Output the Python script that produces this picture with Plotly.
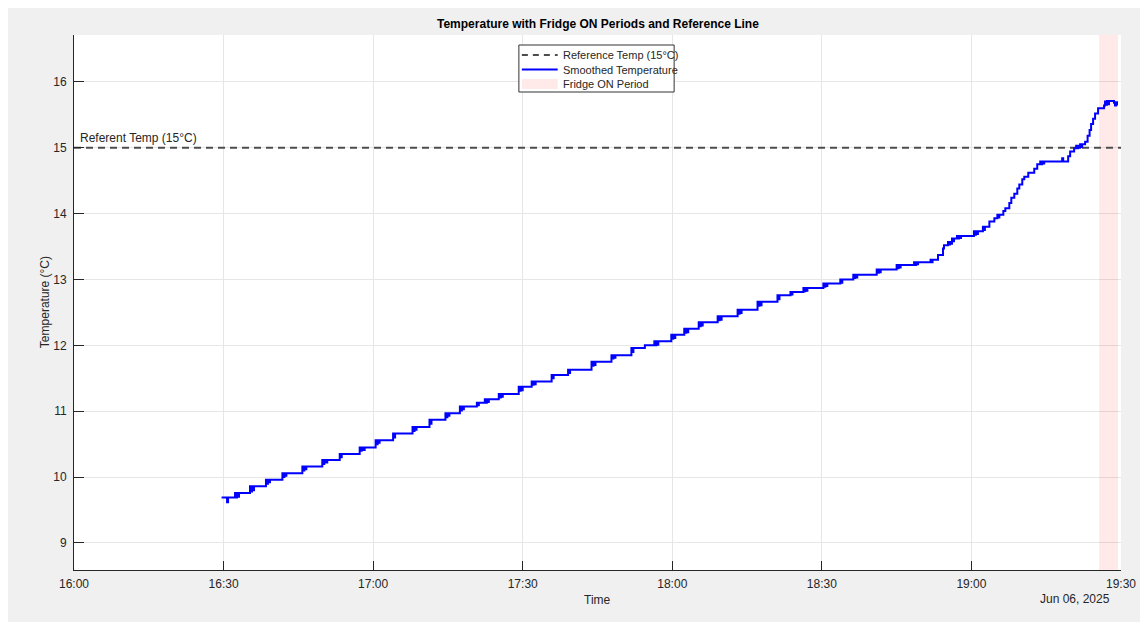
import plotly.graph_objects as go
import pandas as pd

# ---------------- data ----------------
base_time = "2025-06-06 16:00:00"
minutes_after_16h = [
    29.6, 30.7, 30.9, 32.3, 32.5, 32.7, 32.9, 33.1, 35.3, 35.5, 35.7, 35.9, 36.1,
    38.5, 38.7, 38.9, 39.1, 39.3, 41.8, 42.0, 42.2, 42.4, 42.6, 45.8, 46.0, 46.2,
    46.4, 46.6, 49.8, 50.0, 50.2, 50.5, 50.8, 53.3, 53.5, 53.7, 57.3, 57.5, 57.7,
    58.0, 58.3, 60.5, 60.7, 60.9, 61.1, 61.3, 64.0, 64.2, 64.4, 67.9, 68.1, 68.3,
    68.5, 68.7, 71.3, 71.5, 71.7, 74.5, 74.7, 74.9, 75.1, 75.3, 77.4, 77.6, 77.8,
    78.0, 78.2, 80.8, 81.0, 81.2, 82.4, 82.6, 82.8, 83.0, 83.2, 85.2, 85.4, 85.6,
    85.8, 86.0, 89.2, 89.4, 89.6, 89.8, 90.0, 91.8, 92.0, 92.2, 92.4, 92.6, 95.8,
    96.0, 96.2, 99.1, 99.3, 99.5, 103.8, 104.0, 104.2, 104.4, 104.6, 107.8, 108.0,
    108.2, 108.4, 108.6, 111.8, 112.0, 112.2, 114.5, 116.4, 116.6, 116.8, 117.0,
    117.2, 119.8, 120.0, 120.2, 120.4, 120.6, 122.4, 122.6, 122.8, 123.0, 123.2,
    125.3, 125.5, 125.7, 125.9, 126.1, 129.1, 129.3, 129.5, 129.7, 129.9, 133.1,
    133.3, 133.5, 133.7, 133.9, 137.1, 137.3, 137.5, 137.7, 137.9, 141.1, 141.3,
    141.5, 143.7, 143.9, 144.1, 146.3, 146.5, 146.7, 146.9, 147.1, 150.3, 150.5,
    150.7, 150.9, 151.1, 153.7, 153.9, 154.1, 156.3, 156.5, 156.7, 156.9, 157.1,
    161.0, 161.2, 161.4, 161.6, 161.8, 165.0, 165.2, 165.4, 165.6, 165.8, 168.5,
    168.7, 168.9, 169.1, 169.3, 171.8, 172.0, 172.2, 173.3, 174.3, 174.5, 175.3,
    175.5, 175.7, 175.9, 176.1, 176.3, 176.5, 177.1, 177.3, 177.5, 177.7, 177.9,
    180.5, 180.7, 180.9, 181.1, 181.3, 182.3, 182.5, 182.7, 183.6, 184.6, 185.2,
    185.4, 185.6, 186.4, 186.8, 187.6, 188.0, 188.6, 189.2, 189.6, 190.2, 190.6,
    191.4, 192.6, 193.2, 193.8, 194.0, 194.2, 194.4, 194.6, 198.2, 198.4, 199.4,
    199.8, 200.6, 201.0, 201.2, 201.4, 201.6, 201.8, 202.0, 202.2, 202.8, 203.3,
    203.7, 204.0, 204.4, 204.8, 205.4, 206.6, 206.8, 207.0, 207.2, 207.4, 207.6,
    208.6, 208.8, 209.0, 209.2,
]
smoothed_temp = [
    9.69, 9.62, 9.69, 9.76, 9.69, 9.76, 9.70, 9.76, 9.86, 9.78, 9.86, 9.80, 9.86,
    9.96, 9.90, 9.96, 9.92, 9.96, 10.06, 10.00, 10.06, 10.02, 10.06, 10.16, 10.10, 10.16,
    10.12, 10.16, 10.26, 10.20, 10.26, 10.22, 10.26, 10.35, 10.30, 10.35, 10.45, 10.40, 10.45,
    10.41, 10.45, 10.56, 10.50, 10.56, 10.52, 10.56, 10.66, 10.60, 10.66, 10.76, 10.70, 10.76,
    10.72, 10.76, 10.87, 10.81, 10.87, 10.97, 10.91, 10.97, 10.93, 10.97, 11.07, 11.01, 11.07,
    11.03, 11.07, 11.13, 11.09, 11.13, 11.18, 11.13, 11.18, 11.14, 11.18, 11.26, 11.21, 11.26,
    11.22, 11.26, 11.37, 11.31, 11.37, 11.32, 11.37, 11.45, 11.40, 11.45, 11.41, 11.45, 11.55,
    11.50, 11.55, 11.63, 11.58, 11.63, 11.75, 11.69, 11.75, 11.70, 11.75, 11.85, 11.80,
    11.85, 11.81, 11.85, 11.96, 11.90, 11.96, 12.00, 12.06, 12.00, 12.06, 12.01,
    12.06, 12.16, 12.10, 12.16, 12.11, 12.16, 12.25, 12.19, 12.25, 12.20, 12.25,
    12.35, 12.29, 12.35, 12.30, 12.35, 12.44, 12.38, 12.44, 12.39, 12.44, 12.54,
    12.48, 12.54, 12.49, 12.54, 12.66, 12.60, 12.66, 12.61, 12.66, 12.76, 12.70,
    12.76, 12.81, 12.77, 12.81, 12.87, 12.82, 12.87, 12.83, 12.87, 12.94, 12.89,
    12.94, 12.90, 12.94, 13.00, 12.95, 13.00, 13.07, 13.02, 13.07, 13.03, 13.07,
    13.15, 13.10, 13.15, 13.11, 13.15, 13.22, 13.17, 13.22, 13.18, 13.22, 13.26,
    13.22, 13.26, 13.23, 13.26, 13.30, 13.26, 13.30, 13.37, 13.47, 13.52, 13.57,
    13.53, 13.57, 13.54, 13.62, 13.58, 13.62, 13.66, 13.62, 13.66, 13.63, 13.66,
    13.73, 13.68, 13.73, 13.69, 13.73, 13.80, 13.75, 13.80, 13.88, 13.93, 13.98,
    13.94, 13.98, 14.04, 14.08, 14.16, 14.24, 14.30, 14.38, 14.44, 14.52, 14.56,
    14.62, 14.68, 14.75, 14.79, 14.75, 14.79, 14.76, 14.79, 14.84, 14.79, 14.87,
    14.94, 14.99, 15.03, 14.99, 15.03, 15.00, 15.05, 15.01, 15.05, 15.09, 15.18,
    15.27, 15.36, 15.44, 15.52, 15.60, 15.64, 15.70, 15.65, 15.71, 15.66, 15.71,
    15.68, 15.64, 15.69, 15.64,
]
reference_temp = 15.0
fridge_on_start_min = [205.6]
fridge_on_end_min = [209.4]
x_range_min = [0, 210]
y_range = [8.59, 16.71]
y_ticks = [9, 10, 11, 12, 13, 14, 15, 16]

t0 = pd.Timestamp(base_time)
to_time = lambda m: t0 + pd.to_timedelta(m, unit="min")
times = [to_time(m) for m in minutes_after_16h]
x_lo, x_hi = to_time(x_range_min[0]), to_time(x_range_min[1])

# ---------------- geometry (page pixels; page body has an 8px margin) ----------------
OFF = 8
W, H = 1148 - OFF, 622 - OFF
PL, PR, PT, PB = 74, 1126, 35, 570          # plot area in page pixels
def px(x):
    return (x - PL) / (PR - PL)
def py(y):
    return (PB - y) / (PB - PT)

FONT = "Liberation Sans, Arial, Helvetica, sans-serif"
TXT = "#262626"
PINK = "rgba(255,0,0,0.085)"

fig = go.Figure()

# fridge ON patches
for s, e in zip(fridge_on_start_min, fridge_on_end_min):
    fig.add_trace(go.Scatter(
        x=[to_time(s), to_time(e), to_time(e), to_time(s), to_time(s)],
        y=[y_range[0], y_range[0], y_range[1], y_range[1], y_range[0]],
        fill="toself", fillcolor=PINK, line=dict(width=0),
        mode="lines", hoverinfo="skip", showlegend=False))

# reference line
fig.add_trace(go.Scatter(
    x=[x_lo, x_hi], y=[reference_temp, reference_temp], mode="lines",
    line=dict(color="#4d4d4d", width=2, dash="7px,5px"), showlegend=False))

# temperature
fig.add_trace(go.Scatter(
    x=times, y=smoothed_temp, mode="lines", line_shape="hv",
    line=dict(color="#0000ff", width=2), showlegend=False))

shapes = [
    # legend box
    dict(type="rect", xref="paper", yref="paper",
         x0=px(521), x1=px(677), y0=py(92), y1=py(45),
         fillcolor="white", line=dict(color="#333333", width=1)),
    dict(type="line", xref="paper", yref="paper",
         x0=px(524), x1=px(560), y0=py(55), y1=py(55),
         line=dict(color="#4d4d4d", width=2, dash="6px,5px")),
    dict(type="line", xref="paper", yref="paper",
         x0=px(524), x1=px(560), y0=py(69.5), y1=py(69.5),
         line=dict(color="#0000ff", width=2)),
    dict(type="rect", xref="paper", yref="paper",
         x0=px(524), x1=px(560), y0=py(89), y1=py(79),
         fillcolor=PINK, line=dict(width=0)),
]

annotations = [
    dict(text="Reference Temp (15°C)", x=px(563), y=py(55)),
    dict(text="Smoothed Temperature", x=px(563), y=py(69.5)),
    dict(text="Fridge ON Period", x=px(563), y=py(84)),
]
for a in annotations:
    a.update(xref="paper", yref="paper", xanchor="left", yanchor="middle",
             showarrow=False, font=dict(family=FONT, size=11, color=TXT))

annotations += [
    dict(text="Referent Temp (15°C)", xref="paper", yref="y", x=px(78), y=reference_temp,
         xanchor="left", yanchor="bottom", yshift=1, showarrow=False,
         font=dict(family=FONT, size=12, color=TXT)),
    dict(text="Jun 06, 2025", xref="paper", yref="paper", x=px(1117), y=py(599),
         xanchor="right", yanchor="middle", showarrow=False,
         font=dict(family=FONT, size=12, color=TXT)),
    dict(text="Time", xref="paper", yref="paper", x=px(600), y=py(600),
         xanchor="center", yanchor="middle", showarrow=False,
         font=dict(family=FONT, size=12, color=TXT)),
    dict(text="Temperature (°C)", xref="paper", yref="paper", x=px(45), y=py(302),
         xanchor="center", yanchor="middle", textangle=-90, showarrow=False,
         font=dict(family=FONT, size=12, color=TXT)),
    dict(text="<b>Temperature with Fridge ON Periods and Reference Line</b>",
         xref="paper", yref="paper", x=px(600), y=py(24),
         xanchor="center", yanchor="middle", showarrow=False,
         font=dict(family=FONT, size=12, color="#000000")),
]

fig.update_layout(
    width=W, height=H,
    margin=dict(l=PL - OFF, r=(W + OFF) - PR, t=PT - OFF, b=(H + OFF) - PB, pad=0),
    paper_bgcolor="#f0f0f0", plot_bgcolor="white",
    showlegend=False, shapes=shapes, annotations=annotations,
    font=dict(family=FONT, size=12, color=TXT),
)
fig.update_xaxes(
    range=[x_lo, x_hi], dtick=30 * 60 * 1000, tick0=x_lo, tickformat="%H:%M",
    showgrid=True, gridcolor="#e6e6e6", gridwidth=1,
    showline=True, linecolor="#262626", linewidth=1, mirror=False,
    ticks="inside", ticklen=9, tickcolor="#262626", tickwidth=1,
    ticklabelstandoff=3, zeroline=False,
    tickfont=dict(family=FONT, size=12, color=TXT),
)
fig.update_yaxes(
    range=y_range, tickvals=y_ticks,
    showgrid=True, gridcolor="#e6e6e6", gridwidth=1,
    showline=True, linecolor="#262626", linewidth=1, mirror=False,
    ticks="inside", ticklen=10, tickcolor="#262626", tickwidth=1,
    ticklabelstandoff=4, zeroline=False,
    tickfont=dict(family=FONT, size=12, color=TXT),
)

fig.write_html("out.html")
